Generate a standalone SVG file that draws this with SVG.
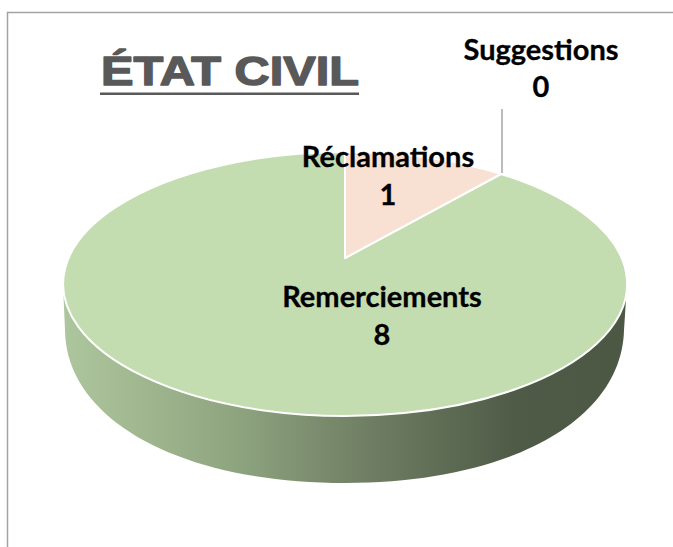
<svg xmlns="http://www.w3.org/2000/svg" width="673" height="547" viewBox="0 0 673 547">
  <defs>
    <linearGradient id="sideGrad" gradientUnits="userSpaceOnUse" x1="63" y1="0" x2="627" y2="0">
      <stop offset="0" stop-color="#aec69d"/>
      <stop offset="0.3" stop-color="#8fa580"/>
      <stop offset="0.55" stop-color="#6e7d62"/>
      <stop offset="0.8" stop-color="#4f5b47"/>
      <stop offset="1" stop-color="#4c5744"/>
    </linearGradient>
  </defs>
  <style>
    .frame { fill: none; stroke: #a3a3a3; stroke-width: 1.5; }
    .title { font-family: "Liberation Sans", Arial, sans-serif; font-weight: 700; font-size: 40px; fill: #595959; stroke: #595959; stroke-width: 1.4; stroke-linejoin: round; }
    .lbl { font-family: Lato, "Liberation Sans", sans-serif; font-weight: 700; font-size: 29px; fill: #000000; text-anchor: middle; stroke: #000000; stroke-width: 0.3; }
    .big { fill: #c3dcb0; stroke: #ffffff; stroke-width: 2; stroke-linejoin: round; }
    .small { fill: #f8e0d2; stroke: #ffffff; stroke-width: 2; stroke-linejoin: round; }
    .leader { stroke: #a6a6a6; stroke-width: 1.5; fill: none; }
  </style>

  <rect width="673" height="547" fill="#ffffff"/>
  <path class="frame" d="M7.5,547 L7.5,12.5 L673,12.5"/>

  <g id="title">
    <text class="title" x="101" y="85" textLength="258" lengthAdjust="spacingAndGlyphs">ÉTAT CIVIL</text>
    <rect x="100" y="92.5" width="259" height="2.5" fill="#595959"/>
  </g>

  <g id="pie-side">
    <path fill="url(#sideGrad)" d="M63,284 L65,330 C66,420 180,483 345,483 C510,483 622,420 624,330 L627,284 A282,132 0 0 1 63,284 Z"/>
  </g>

  <g id="slice-remerciements">
    <path class="big" d="M345,258 L345,152 A282,132 0 1 0 501,174 Z"/>
  </g>

  <g id="slice-reclamations">
    <path class="small" d="M345,258 L345,152 A282,132 0 0 1 501,174 Z"/>
  </g>

  <g id="connectors">
    <line class="leader" x1="502" y1="109" x2="502" y2="173"/>
  </g>

  <g id="label-suggestions">
    <text class="lbl" x="541" y="60">Suggestions</text>
    <text class="lbl" x="541" y="97">0</text>
  </g>

  <g id="label-reclamations">
    <text class="lbl" x="388" y="167">Réclamations</text>
    <text class="lbl" x="388" y="205">1</text>
  </g>

  <g id="label-remerciements">
    <text class="lbl" x="382" y="307">Remerciements</text>
    <text class="lbl" x="382" y="345">8</text>
  </g>
</svg>
